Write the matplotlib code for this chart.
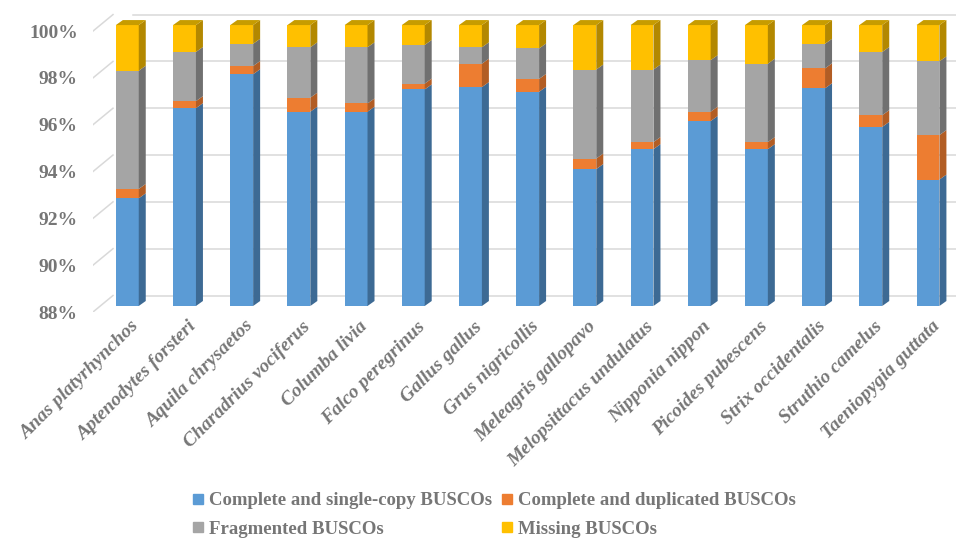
import matplotlib
matplotlib.use("Agg")
import matplotlib.pyplot as plt
import numpy as np
from matplotlib.patches import Polygon
from matplotlib.lines import Line2D
from matplotlib.transforms import ScaledTranslation

# BUSCO completeness per genome (%)
species = ["Anas platyrhynchos", "Aptenodytes forsteri", "Aquila chrysaetos",
           "Charadrius vociferus", "Columba livia", "Falco peregrinus",
           "Gallus gallus", "Grus nigricollis", "Meleagris gallopavo",
           "Melopsittacus undulatus", "Nipponia nippon", "Picoides pubescens",
           "Strix occidentalis", "Struthio camelus", "Taeniopygia guttata"]
single = [92.6, 96.45, 97.9, 96.3, 96.3, 97.25, 97.35, 97.15, 93.85, 94.7, 95.9, 94.7, 97.3, 95.65, 93.4]
duplicated = [0.4, 0.3, 0.35, 0.6, 0.35, 0.25, 1.0, 0.55, 0.45, 0.3, 0.4, 0.3, 0.85, 0.5, 1.9]
fragmented = [5.05, 2.1, 0.95, 2.15, 2.4, 1.65, 0.7, 1.3, 3.8, 3.1, 2.2, 3.35, 1.05, 2.7, 3.15]
missing = [1.95, 1.15, 0.8, 0.95, 0.95, 0.85, 0.95, 1.0, 1.9, 1.9, 1.5, 1.65, 0.8, 1.15, 1.55]

series = [single, duplicated, fragmented, missing]
names = ["Complete and single-copy BUSCOs", "Complete and duplicated BUSCOs",
         "Fragmented BUSCOs", "Missing BUSCOs"]
front_colors = ["#5B9BD5", "#ED7D31", "#A5A5A5", "#FFC000"]
side_colors = ["#3D6A94", "#B25D24", "#707070", "#B38800"]
top_color = "#C79C00"

YMIN, YMAX = 88, 100.9
W, H = 956, 538
fig = plt.figure(figsize=(W / 100, H / 100), dpi=100)
ax = fig.add_axes([93 / W, (H - 312) / H, (W - 93) / W, (312 - 10) / H])
ax.set_xlim(-0.6, 14.49)
ax.set_ylim(YMIN, YMAX)

# pixel -> data conversion for the fake 3D depth
ppx = (W - 93) / (14.49 + 0.6)
ppy = (312 - 10) / (YMAX - YMIN)
def dx(px):
    return px / ppx
def dy(px):
    return px / ppy

def shift(px, py):
    return ax.transData + ScaledTranslation(px / 100, py / 100, fig.dpi_scale_trans)

grid_c = "#D9D9D9"
ticks = np.arange(88, 101, 2)
back = shift(20, 16.5)
for t in ticks:
    ax.plot([-0.6 + dx(20), 14.49], [t, t], color=grid_c, lw=1.1, transform=back, zorder=1)
    ax.plot([-0.6, -0.6 + dx(20)], [t, t + dy(16.5)], color=grid_c, lw=1.1, zorder=1)

# stacked prisms, only the part above the axis floor is drawn
front = shift(0, 6)
x = np.arange(len(species))
w = 0.40
ddx, ddy = dx(7), dy(5)
cum = np.zeros(len(species))
for k, vals in enumerate(series):
    vals = np.array(vals)
    lo = np.clip(cum, YMIN, 100)
    hi = np.clip(cum + vals, YMIN, 100)
    ax.bar(x, hi - lo, w, bottom=lo, color=front_colors[k],
           transform=front, zorder=3, linewidth=0)
    for i in range(len(species)):
        if hi[i] <= lo[i]:
            continue
        xr = x[i] + w / 2
        side = Polygon([(xr, lo[i]), (xr + ddx, lo[i] + ddy),
                        (xr + ddx, hi[i] + ddy), (xr, hi[i])],
                       closed=True, facecolor=side_colors[k], edgecolor="none",
                       transform=front, zorder=3)
        ax.add_patch(side)
    cum = cum + vals

top = np.clip(cum, YMIN, 100)
for i in range(len(species)):
    xl, xr = x[i] - w / 2, x[i] + w / 2
    lid = Polygon([(xl, top[i]), (xl + ddx, top[i] + ddy),
                   (xr + ddx, top[i] + ddy), (xr, top[i])],
                  closed=True, facecolor=top_color, edgecolor="none",
                  transform=front, zorder=3)
    ax.add_patch(lid)

txt_c = "#767676"
ax.set_yticks(ticks)
ax.set_yticklabels([f"{t}%" for t in ticks], fontfamily="Liberation Serif",
                   fontweight="bold", fontsize=14, color=txt_c)
ax.tick_params(axis="y", length=0, pad=11)
ax.set_xticks([])
for s in ax.spines.values():
    s.set_visible(False)

lab_tr = shift(3, -6)
for i, name in enumerate(species):
    ax.text(x[i], YMIN, name, transform=lab_tr, rotation=45, rotation_mode="anchor",
            ha="right", va="top", fontfamily="Liberation Serif", fontweight="bold",
            fontstyle="italic", fontsize=14, color=txt_c)

order = [0, 2, 1, 3]
handles = [Line2D([], [], marker="s", ls="", markersize=7, color=front_colors[k]) for k in order]
fig.legend(handles, [names[k] for k in order], ncol=2, loc="center",
           bbox_to_anchor=(494 / W, (H - 515) / H), frameon=False,
           prop={"family": "Liberation Serif", "weight": "bold", "size": 13.5},
           labelcolor=txt_c, handlelength=0.6, handletextpad=0.3,
           columnspacing=0.5, labelspacing=0.6, borderpad=0)

fig.savefig("out.png", dpi=100)
